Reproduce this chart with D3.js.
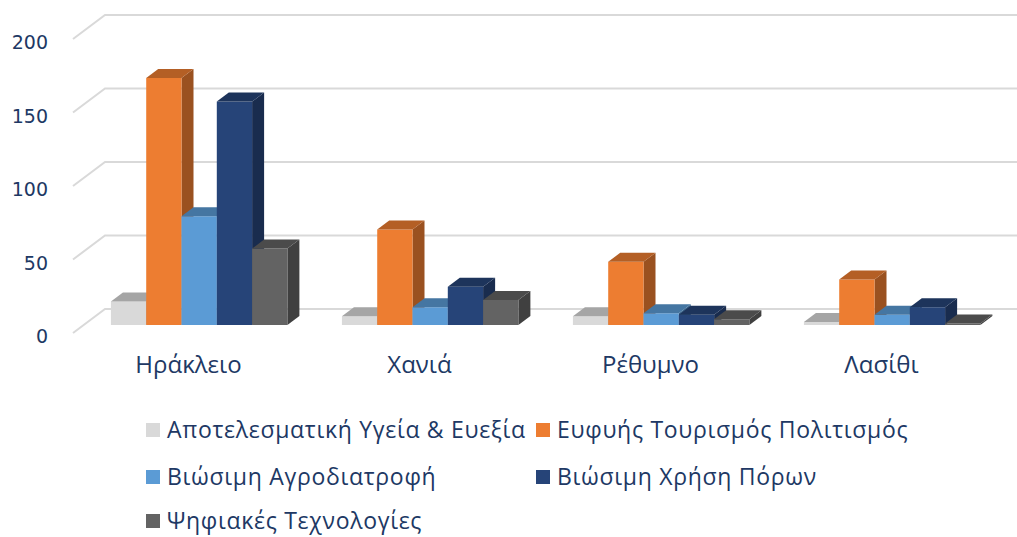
<!DOCTYPE html>
<html>
<head>
<meta charset="utf-8">
<script src="https://cdn.jsdelivr.net/npm/d3@7"></script>
<style>
  body { margin: 0; background: #fff; }
  svg { display: block; }
</style>
</head>
<body>
<div id="chart"></div>
<script>
// data
const regions = ["Ηράκλειο", "Χανιά", "Ρέθυμνο", "Λασίθι"]
const seriesNames = [
  "Αποτελεσματική Υγεία & Ευεξία",
  "Ευφυής Τουρισμός Πολιτισμός",
  "Βιώσιμη Αγροδιατροφή",
  "Βιώσιμη Χρήση Πόρων",
  "Ψηφιακές Τεχνολογίες"
]
const health = [16, 6, 6, 2]
const tourism = [168, 65, 43, 31]
const agrifood = [74, 12, 8, 7]
const resources = [152, 26, 7, 12]
const digital = [52, 17, 4, 1]
const yTicks = [0, 50, 100, 150, 200]
const colors = ["#d9d9d9", "#ed7d31", "#5b9bd5", "#264478", "#636363"]

const series = [health, tourism, agrifood, resources, digital]

const W = 1017, H = 537
const textColor = "#203864"

// fake 3d: depth moves right and up
const depthX = 32, depthY = -24
const barFront = 0.333, barBack = 0.708
const proj = (x, y, d) => [x + depthX * d, y + depthY * d]

const svg = d3.select("#chart").append("svg")
  .attr("width", W)
  .attr("height", H)

const x = d3.scaleBand()
  .domain(regions)
  .range([73, 997])
  .paddingInner(0.236)
  .paddingOuter(0.118)

const xs = d3.scaleBand()
  .domain(d3.range(series.length))
  .range([0, x.bandwidth()])

const y = d3.scaleLinear()
  .domain([0, 200])
  .range([333, 39])

// walls gridlines
const grid = svg.append("g")
  .attr("fill", "none")
  .attr("stroke", "#d9d9d9")
  .attr("stroke-width", 2)

grid.selectAll("path")
  .data(yTicks)
  .join("path")
  .attr("d", v => {
    const p0 = proj(x.range()[0], y(v), 0)
    const p1 = proj(x.range()[0], y(v), 1)
    return `M${p0}L${p1}L${W},${p1[1]}`
  })

// y axis labels
const yAxis = d3.axisLeft(y)
  .tickValues(yTicks)
  .tickSize(0)
  .tickPadding(0)

svg.append("g")
  .attr("transform", "translate(48,3.5)")
  .call(yAxis)
  .call(g => g.select(".domain").remove())
  .selectAll("text")
  .attr("fill", textColor)
  .attr("font-family", "DejaVu Sans")
  .attr("font-size", 19)

// bars
const shade = (c, k) => {
  const r = d3.rgb(c)
  return d3.rgb(r.r * k, r.g * k, r.b * k).formatHex()
}

const bars = []
regions.forEach((r, i) => {
  series.forEach((s, j) => {
    bars.push({ region: r, si: j, value: s[i] })
  })
})

const barG = svg.append("g")
  .selectAll("g")
  .data(bars)
  .join("g")

barG.each(function (d) {
  const g = d3.select(this)
  const x0 = x(d.region) + xs(d.si)
  const x1 = x0 + xs.bandwidth()
  const y0 = y(0)
  const y1 = y(d.value)
  const c = colors[d.si]

  const a = proj(x0, y1, barFront), b = proj(x1, y1, barFront)
  const bb = proj(x1, y1, barBack), ab = proj(x0, y1, barBack)
  const bl = proj(x1, y0, barFront), blb = proj(x1, y0, barBack)
  const al = proj(x0, y0, barFront)

  // right side
  g.append("path")
    .attr("d", `M${b}L${bb}L${blb}L${bl}Z`)
    .attr("fill", shade(c, 0.65))
  // front
  g.append("path")
    .attr("d", `M${a}L${b}L${bl}L${al}Z`)
    .attr("fill", c)
  // top
  g.append("path")
    .attr("d", `M${a}L${b}L${bb}L${ab}Z`)
    .attr("fill", shade(c, 0.76))
})

// category labels
const xAxis = d3.axisBottom(x)
  .tickSize(0)
  .tickPadding(0)

svg.append("g")
  .attr("transform", "translate(0,356)")
  .call(xAxis)
  .call(g => g.select(".domain").remove())
  .selectAll("text")
  .attr("fill", textColor)
  .attr("font-family", "Open Sans")
  .attr("font-size", 24)

// legend
const legendPos = [[146, 430], [536, 430], [146, 477], [536, 477], [146, 521]]

const legend = svg.append("g")
  .selectAll("g")
  .data(seriesNames)
  .join("g")
  .attr("transform", (d, i) => `translate(${legendPos[i]})`)

legend.append("rect")
  .attr("x", 0)
  .attr("y", -7)
  .attr("width", 14)
  .attr("height", 14)
  .attr("fill", (d, i) => colors[i])

legend.append("text")
  .attr("x", 21)
  .attr("dy", "0.35em")
  .attr("fill", textColor)
  .attr("font-family", "Open Sans")
  .attr("font-size", 23)
  .attr("letter-spacing", 0.7)
  .text(d => d)
</script>
</body>
</html>
